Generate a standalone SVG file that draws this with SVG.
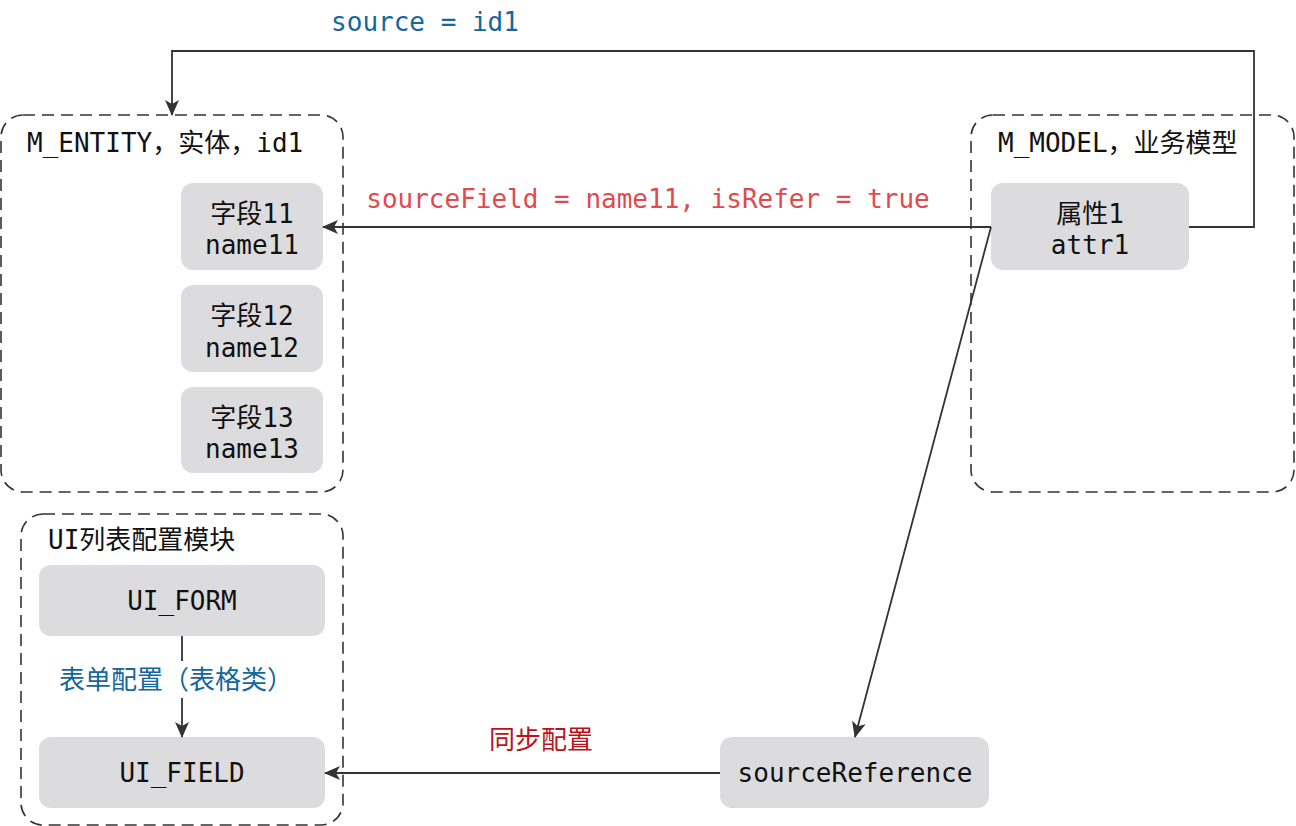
<svg xmlns="http://www.w3.org/2000/svg" width="1296" height="826" viewBox="0 0 1296 826">
<defs>
<style>
.grp{fill:none;stroke:#333;stroke-width:1.6;stroke-dasharray:12 7}
.nd{fill:#dcdcde;stroke:none}
.t{font-family:"DejaVu Sans Mono","Liberation Mono","Noto Sans CJK SC",monospace;font-size:26px;fill:#111}
.c{text-anchor:middle}
.ln{fill:none;stroke:#333;stroke-width:1.8}
.blue{fill:#13679c}
.red{fill:#e04a4f}
.dred{fill:#b8141a}
</style>
<marker id="ah" viewBox="0 0 16 14" refX="15" refY="7" markerWidth="16" markerHeight="14" markerUnits="userSpaceOnUse" orient="auto">
<path d="M0,0 L16,7 L0,14 L4,7 Z" fill="#333"/>
</marker>
</defs>
<rect width="1296" height="826" fill="#fff"/>
<g id="m_entity">
<rect class="grp" x="1" y="115" width="342" height="377" rx="22"/>
<text class="t" x="27" y="152">M_ENTITY，实体，id1</text>
</g>
<g id="m_model">
<rect class="grp" x="971" y="115" width="323" height="377" rx="22"/>
<text class="t" x="998" y="152">M_MODEL，业务模型</text>
</g>
<g id="ui_module">
<rect class="grp" x="21" y="514" width="322" height="311" rx="22"/>
<text class="t" x="48" y="549">UI列表配置模块</text>
</g>
<g id="field11">
<rect class="nd" x="181" y="183" width="142" height="87" rx="12"/>
<text class="t c" x="252" y="223">字段11</text>
<text class="t c" x="252" y="254">name11</text>
</g>
<g id="field12">
<rect class="nd" x="181" y="285" width="142" height="87" rx="12"/>
<text class="t c" x="252" y="325">字段12</text>
<text class="t c" x="252" y="357">name12</text>
</g>
<g id="field13">
<rect class="nd" x="181" y="387" width="142" height="86" rx="12"/>
<text class="t c" x="252" y="427">字段13</text>
<text class="t c" x="252" y="458">name13</text>
</g>
<g id="attr1">
<rect class="nd" x="991" y="183" width="198" height="87" rx="12"/>
<text class="t c" x="1090" y="223">属性1</text>
<text class="t c" x="1090" y="254">attr1</text>
</g>
<g id="ui_form">
<rect class="nd" x="39" y="565" width="286" height="71" rx="12"/>
<text class="t c" x="182" y="610">UI_FORM</text>
</g>
<g id="ui_field">
<rect class="nd" x="39" y="737" width="286" height="71" rx="12"/>
<text class="t c" x="182" y="782">UI_FIELD</text>
</g>
<g id="source_reference">
<rect class="nd" x="720" y="737" width="269" height="71" rx="12"/>
<text class="t c" x="855" y="782">sourceReference</text>
</g>
<g id="connectors">
<polyline class="ln" points="1189,227 1254,227 1254,51 172,51 172,115" marker-end="url(#ah)"/>
<line class="ln" x1="991" y1="227" x2="323" y2="227" marker-end="url(#ah)"/>
<line class="ln" x1="991" y1="227" x2="855" y2="737" marker-end="url(#ah)"/>
<line class="ln" x1="720" y1="773" x2="325" y2="773" marker-end="url(#ah)"/>
<line class="ln" x1="182" y1="636" x2="182" y2="661"/>
<line class="ln" x1="182" y1="698" x2="182" y2="737" marker-end="url(#ah)"/>
<text class="t c blue" x="425" y="31">source = id1</text>
<text class="t c red" x="648" y="208">sourceField = name11, isRefer = true</text>
<text class="t c dred" x="541" y="749">同步配置</text>
<text class="t c blue" x="176" y="689">表单配置（表格类）</text>
</g>
</svg>
